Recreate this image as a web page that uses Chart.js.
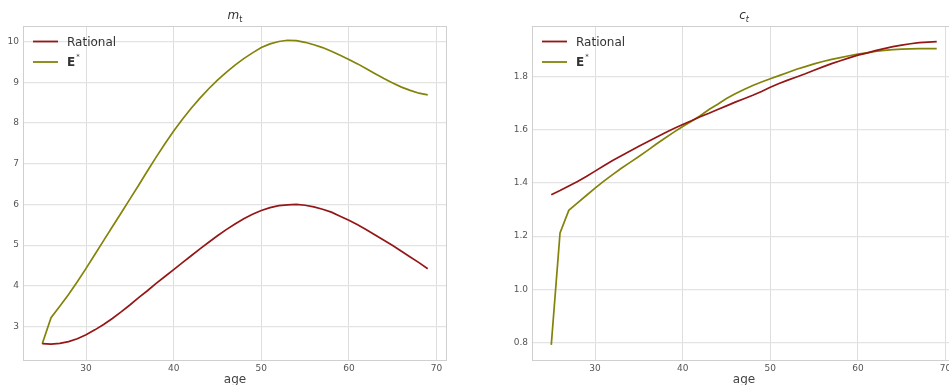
<!DOCTYPE html>
<html>
<head>
<meta charset="utf-8">
<script src="https://cdn.jsdelivr.net/npm/chart.js@4"></script>
<style>
  html, body { margin: 0; padding: 0; background: #fff; }
  #wrap { position: relative; width: 949px; height: 385px; overflow: hidden; }
  canvas { position: absolute; top: 0; }
</style>
</head>
<body>
<div id="wrap">
  <canvas id="mChart" width="475" height="385" style="left:0"></canvas>
  <canvas id="cChart" width="500" height="385" style="left:475px"></canvas>
</div>
<script>
// ages 25..69
var ages = [25, 26, 27, 28, 29, 30, 31, 32, 33, 34, 35, 36, 37, 38, 39,
            40, 41, 42, 43, 44, 45, 46, 47, 48, 49, 50, 51, 52, 53, 54,
            55, 56, 57, 58, 59, 60, 61, 62, 63, 64, 65, 66, 67, 68, 69];

// m_t
var mRational = [2.58, 2.57, 2.59, 2.63, 2.70, 2.80, 2.92, 3.05, 3.20, 3.36,
                 3.53, 3.71, 3.88, 4.06, 4.23, 4.40, 4.57, 4.74, 4.91, 5.07,
                 5.23, 5.38, 5.52, 5.65, 5.76, 5.85, 5.92, 5.97, 5.99, 6.00,
                 5.98, 5.94, 5.88, 5.81, 5.71, 5.61, 5.50, 5.38, 5.25, 5.12,
                 4.99, 4.85, 4.71, 4.57, 4.42];
var mEstar = [2.58, 3.22, 3.50, 3.79, 4.10, 4.43, 4.77, 5.11, 5.45, 5.79,
              6.13, 6.47, 6.82, 7.16, 7.49, 7.80, 8.09, 8.36, 8.61, 8.84,
              9.05, 9.24, 9.42, 9.58, 9.72, 9.85, 9.94, 10.00, 10.03, 10.02,
              9.98, 9.92, 9.85, 9.76, 9.66, 9.56, 9.45, 9.33, 9.21, 9.09,
              8.98, 8.88, 8.80, 8.73, 8.69];

// c_t
var cRational = [1.356, 1.372, 1.389, 1.406, 1.425, 1.445, 1.465, 1.485, 1.503, 1.521,
                 1.539, 1.556, 1.573, 1.590, 1.606, 1.621, 1.635, 1.650, 1.663, 1.677,
                 1.691, 1.705, 1.718, 1.731, 1.745, 1.761, 1.775, 1.788, 1.800, 1.812,
                 1.825, 1.838, 1.850, 1.861, 1.872, 1.882, 1.890, 1.899, 1.907, 1.914,
                 1.920, 1.925, 1.929, 1.931, 1.933];
var cEstar = [0.790, 1.212, 1.297, 1.325, 1.353, 1.381, 1.407, 1.432, 1.456, 1.478,
              1.500, 1.523, 1.547, 1.570, 1.592, 1.613, 1.633, 1.654, 1.677, 1.697,
              1.719, 1.737, 1.753, 1.768, 1.781, 1.793, 1.805, 1.817, 1.829, 1.839,
              1.849, 1.858, 1.866, 1.873, 1.880, 1.886, 1.891, 1.896, 1.900, 1.903,
              1.905, 1.906, 1.907, 1.907, 1.907];

var ageTicks = [30, 40, 50, 60, 70];
var mTicks = [3, 4, 5, 6, 7, 8, 9, 10];
var cTicks = [0.8, 1.0, 1.2, 1.4, 1.6, 1.8];

var RED = '#941616';
var OLIVE = '#83830a';
var FONT = "'DejaVu Sans', sans-serif";

function pairs(ys) {
  return ages.map(function (a, i) { return { x: a, y: ys[i] }; });
}

// frame, in-plot legend and sub-scripted title
var panelDecor = {
  id: 'panelDecor',
  afterDraw: function (chart, args, opts) {
    var ctx = chart.ctx, a = chart.chartArea;
    ctx.save();
    ctx.strokeStyle = '#cfcfcf';
    ctx.lineWidth = 1;
    ctx.strokeRect(a.left + 0.5, a.top + 0.5, a.right - a.left - 1, a.bottom - a.top);

    // title
    var cx = (a.left + a.right) / 2;
    ctx.fillStyle = '#333';
    ctx.textBaseline = 'alphabetic';
    ctx.font = 'italic 12px ' + FONT;
    var w1 = ctx.measureText(opts.base).width;
    ctx.font = (opts.subItalic ? 'italic ' : '') + '8px ' + FONT;
    var w2 = ctx.measureText(opts.sub).width;
    var x0 = cx - (w1 + w2) / 2;
    ctx.font = 'italic 12px ' + FONT;
    ctx.textAlign = 'left';
    ctx.fillText(opts.base, x0, 19);
    ctx.font = (opts.subItalic ? 'italic ' : '') + '8px ' + FONT;
    ctx.fillText(opts.sub, x0 + w1, 22);

    // legend
    var rows = chart.data.datasets;
    rows.forEach(function (ds, i) {
      var y = a.top + 15.5 + i * 20.5;
      ctx.strokeStyle = ds.borderColor;
      ctx.lineWidth = 1.8;
      ctx.beginPath();
      ctx.moveTo(a.left + 10, y);
      ctx.lineTo(a.left + 35, y);
      ctx.stroke();
      ctx.fillStyle = '#333';
      ctx.textBaseline = 'middle';
      if (ds.label === 'Rational') {
        ctx.font = '12px ' + FONT;
        ctx.fillText('Rational', a.left + 44, y + 1);
      } else {
        ctx.font = 'bold 12px ' + FONT;
        ctx.fillText('E', a.left + 44, y + 1);
        var ew = ctx.measureText('E').width;
        ctx.font = '7px ' + FONT;
        ctx.fillText('*', a.left + 45 + ew, y - 5);
      }
    });
    ctx.restore();
  }
};

function makeChart(id, s1, s2, yTicks, yMin, yMax, yWidth, padRight, base, sub, subItalic, digits) {
  return new Chart(document.getElementById(id), {
    type: 'line',
    data: {
      datasets: [{
        label: 'Rational',
        data: pairs(s1),
        borderColor: RED,
        borderWidth: 1.7,
        pointRadius: 0,
        fill: false,
        tension: 0
      }, {
        label: 'E*',
        data: pairs(s2),
        borderColor: OLIVE,
        borderWidth: 1.7,
        pointRadius: 0,
        fill: false,
        tension: 0
      }]
    },
    options: {
      responsive: false,
      animation: false,
      layout: { padding: { top: 26, right: padRight, left: 0, bottom: 0 } },
      plugins: {
        legend: { display: false },
        tooltip: { enabled: false },
        panelDecor: { base: base, sub: sub, subItalic: subItalic }
      },
      scales: {
        x: {
          type: 'linear',
          min: 22.8,
          max: 71.2,
          afterBuildTicks: function (scale) {
            scale.ticks = ageTicks.map(function (v) { return { value: v }; });
          },
          afterFit: function (scale) { scale.height = 25; },
          grid: { color: '#dedede', lineWidth: 1, drawTicks: false },
          border: { display: false },
          ticks: {
            padding: 3,
            color: '#555',
            font: { family: FONT, size: 9 },
            maxRotation: 0,
            callback: function (v) { return String(v); }
          },
          title: {
            display: true,
            text: 'age',
            color: '#444',
            font: { family: FONT, size: 12 },
            padding: { top: 0, bottom: -2 }
          }
        },
        y: {
          min: yMin,
          max: yMax,
          afterBuildTicks: function (scale) {
            scale.ticks = yTicks.map(function (v) { return { value: v }; });
          },
          afterFit: function (scale) { scale.width = yWidth; },
          grid: { color: '#e3e3e3', lineWidth: 1.2, drawTicks: false },
          border: { display: false },
          ticks: {
            padding: 4,
            color: '#555',
            font: { family: FONT, size: 9 },
            callback: function (v) { return v.toFixed(digits); }
          }
        }
      }
    },
    plugins: [panelDecor]
  });
}

makeChart('mChart', mRational, mEstar, mTicks, 2.18, 10.38, 23, 28, 'm', 't', false, 0);
makeChart('cChart', cRational, cEstar, cTicks, 0.733, 1.992, 57, 19, 'c', 't', true, 1);
</script>
</body>
</html>
